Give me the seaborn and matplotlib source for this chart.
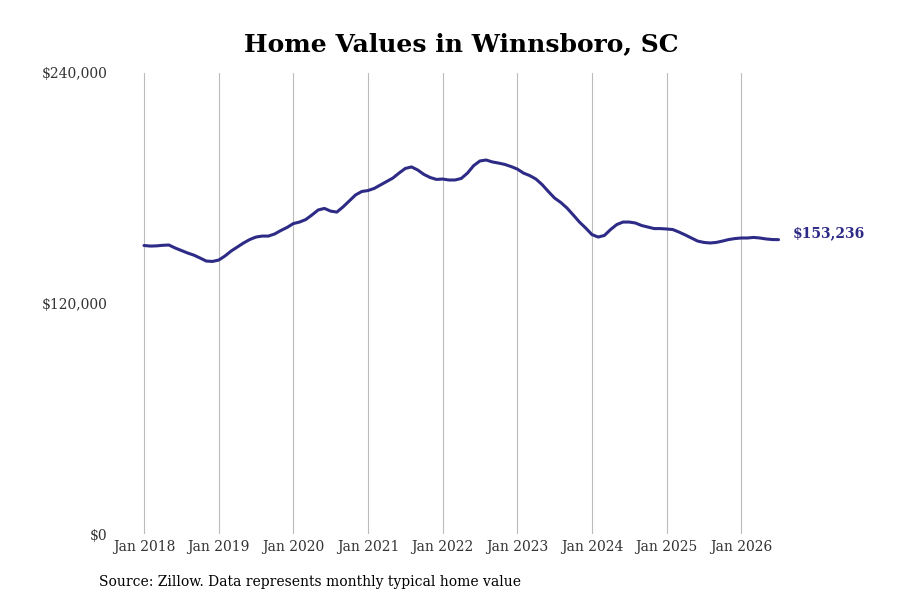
import pandas as pd
import seaborn as sns
import matplotlib.pyplot as plt

# monthly typical home value, Jan 2018 onwards
values = [150200, 149900, 150000, 150300, 150450, 148900, 147600, 146300, 145200, 143700,
          142100, 141900, 142600, 144700, 147300, 149400, 151500, 153300, 154600, 155100,
          155100, 156200, 158000, 159600, 161600, 162400, 163700, 166100, 168700, 169500,
          168100, 167600, 170300, 173400, 176500, 178300, 178800, 179900, 181700, 183500,
          185300, 187900, 190300, 191100, 189500, 187200, 185600, 184600, 184800, 184300,
          184300, 185100, 187900, 191800, 194200, 194700, 193700, 193100, 192400, 191300,
          190000, 187900, 186600, 184800, 181900, 178300, 174900, 172600, 169700, 166100,
          162400, 159300, 155900, 154600, 155400, 158500, 161100, 162400, 162400, 161900,
          160600, 159800, 159000, 159000, 158800, 158500, 157200, 155700, 154100, 152500,
          151800, 151500, 151800, 152500, 153300, 153800, 154100, 154100, 154400, 154100,
          153600, 153300, 153236]
months = list(range(len(values)))
year_ticks = [0, 12, 24, 36, 48, 60, 72, 84, 96]
year_labels = ["Jan 2018", "Jan 2019", "Jan 2020", "Jan 2021", "Jan 2022",
               "Jan 2023", "Jan 2024", "Jan 2025", "Jan 2026"]
y_ticks = [0, 120000, 240000]
y_labels = ["$0", "$120,000", "$240,000"]
last_label = "$153,236"

df = pd.DataFrame({"month": months, "value": values})
line_color = "#2e2b87"

sns.set_style("white")
plt.rcParams['font.family'] = ['DejaVu Serif']

fig = plt.figure(figsize=(9, 6), dpi=100)
ax = fig.add_axes([120 / 900, 0.11, 740 / 900, 461 / 600])

sns.lineplot(data=df, x="month", y="value", color=line_color, linewidth=2.2, ax=ax)

ax.set_xlim(-3.86, 115.1)
ax.set_ylim(0, 240000)
ax.set_xticks(year_ticks)
ax.set_xticklabels(year_labels, fontsize=10, color="#333333")
ax.set_yticks(y_ticks)
ax.set_yticklabels(y_labels, fontsize=10, color="#333333")
ax.tick_params(axis="x", length=0, pad=4)
ax.tick_params(axis="y", length=0, pad=9)
ax.grid(axis="x", color="#bbbbbb", linewidth=0.8)
ax.grid(axis="y", visible=False)
for s in ax.spines.values():
    s.set_visible(False)
ax.set_xlabel("")
ax.set_ylabel("")

ax.annotate(last_label, xy=(months[-1], values[-1]), xytext=(10, 4.5),
            textcoords="offset points", va="center", ha="left",
            fontsize=10, fontweight="bold", color=line_color)

fig.text(461 / 900, 0.927, "Home Values in Winnsboro, SC", ha="center", va="center",
         fontsize=18, fontweight="bold", color="black")
fig.text(99 / 900, 1 - 582 / 600, "Source: Zillow. Data represents monthly typical home value",
         ha="left", va="center", fontsize=10, color="black")

fig.savefig("out.png", dpi=100)
